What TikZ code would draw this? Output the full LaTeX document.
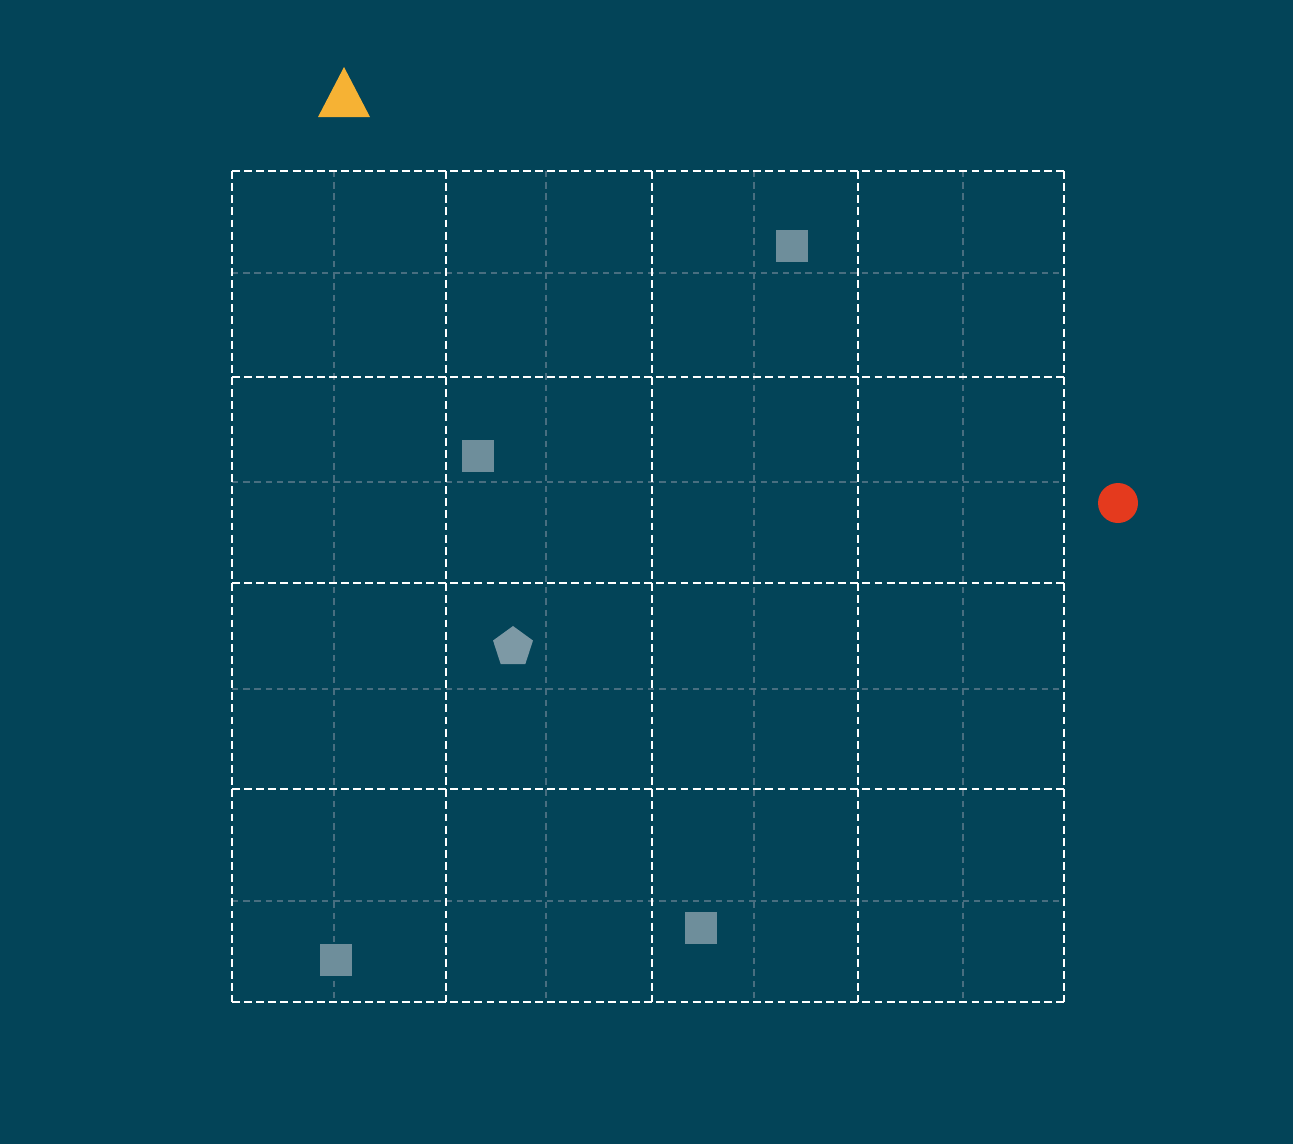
\documentclass[tikz,border=0pt]{standalone}
\usepackage{tikz}
\usetikzlibrary{shapes.geometric}
\definecolor{bgteal}{RGB}{3,68,88}
\definecolor{tokenyellow}{RGB}{246,178,52}
\definecolor{goalred}{RGB}{228,58,30}
\definecolor{wallgray}{RGB}{110,142,155}
\definecolor{finegrid}{RGB}{72,110,128}

\begin{document}
\begin{tikzpicture}[x=0.02cm,y=-0.02cm,
    coarse/.style={white,line width=1.6pt,dash pattern=on 4.5pt off 2.4pt},
    fine/.style={finegrid,line width=0.9pt,dash pattern=on 3.6pt off 2.8pt},
    wall/.style={fill=wallgray,inner sep=0pt,minimum size=0.64cm},
    rock/.style={regular polygon,regular polygon sides=5,fill=wallgray!90!white,inner sep=0pt,minimum size=0.84cm}]
    \fill[bgteal] (0,0) rectangle (1293,1144);
    \useasboundingbox (0,0) rectangle (1293,1144);

    % fine grid
    \foreach \c in {334,546,754,963}
        \draw[fine] (\c,171) -- (\c,1002);
    \foreach \r in {273,482,689,901}
        \draw[fine] (232,\r) -- (1064,\r);
    % coarse grid
    \foreach \c in {232,446,652,858,1064}
        \draw[coarse] (\c,171) -- (\c,1002);
    \foreach \r in {171,377,583,789,1002}
        \draw[coarse] (232,\r) -- (1064,\r);

    \node[wall] (w1) at (792,246) {};
    \node[wall] (w2) at (478,456) {};
    \node[wall] (w3) at (701,928) {};
    \node[wall] (w4) at (336,960) {};
    \node[rock] (p1) at (513,647) {};

    \coordinate (start) at (344,92);
    \fill[tokenyellow] (344,67) -- (370,117) -- (318,117) -- cycle;
    \node[circle,fill=goalred,inner sep=0pt,minimum size=0.8cm] (goal) at (1118,503) {};
\end{tikzpicture}
\end{document}
